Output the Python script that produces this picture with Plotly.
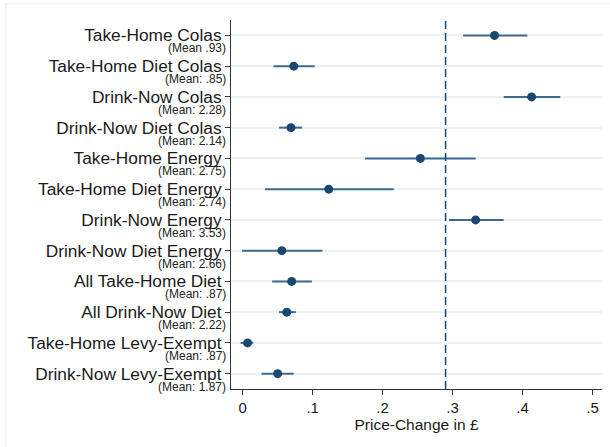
import plotly.graph_objects as go

categories = [
    "Take-Home Colas", "Take-Home Diet Colas", "Drink-Now Colas", "Drink-Now Diet Colas",
    "Take-Home Energy", "Take-Home Diet Energy", "Drink-Now Energy", "Drink-Now Diet Energy",
    "All Take-Home Diet", "All Drink-Now Diet", "Take-Home Levy-Exempt", "Drink-Now Levy-Exempt",
]
mean_labels = [
    "(Mean .93)", "(Mean: .85)", "(Mean: 2.28)", "(Mean: 2.14)",
    "(Mean: 2.75)", "(Mean: 2.74)", "(Mean: 3.53)", "(Mean: 2.66)",
    "(Mean: .87)", "(Mean: 2.22)", "(Mean: .87)", "(Mean: 1.87)",
]
estimates = [0.360, 0.073, 0.413, 0.069, 0.254, 0.123, 0.333, 0.056, 0.070, 0.063, 0.007, 0.050]
ci_low = [0.315, 0.044, 0.373, 0.052, 0.175, 0.032, 0.295, -0.001, 0.042, 0.052, -0.003, 0.027]
ci_high = [0.407, 0.103, 0.454, 0.085, 0.333, 0.216, 0.373, 0.114, 0.099, 0.076, 0.015, 0.073]
reference_line = 0.29
x_ticks = [0, 0.1, 0.2, 0.3, 0.4, 0.5]
x_ticktext = ["0", ".1", ".2", ".3", ".4", ".5"]

positions = list(range(1, len(categories) + 1))
NAVY = "#1a476f"
FONT = "Arial, Liberation Sans, sans-serif"

fig = go.Figure()

# CI lines
ci_x, ci_y = [], []
for p, lo, hi in zip(positions, ci_low, ci_high):
    ci_x += [lo, hi, None]
    ci_y += [p, p, None]
fig.add_trace(go.Scatter(x=ci_x, y=ci_y, mode="lines",
                         line=dict(color="#3e6a90", width=2), hoverinfo="skip", showlegend=False))
fig.add_trace(go.Scatter(x=estimates, y=positions, mode="markers",
                         marker=dict(color=NAVY, size=9), showlegend=False))

fig.add_shape(type="line", xref="x", yref="paper", x0=reference_line, x1=reference_line,
              y0=0, y1=1, line=dict(color=NAVY, width=1.5, dash="8px,4px"))

# outer frame
fig.add_shape(type="rect", xref="paper", yref="paper", x0=-0.607, x1=1.2, y0=-0.3, y1=1.044,
              line=dict(color="#e8eef0", width=1), layer="below")

for p, m in zip(positions, mean_labels):
    fig.add_annotation(x=0, xref="paper", y=p, yref="y", text=m, showarrow=False,
                       xanchor="right", yanchor="middle", xshift=-3, yshift=-13,
                       font=dict(size=12, color="#222", family=FONT))

fig.update_layout(
    width=610, height=447,
    margin=dict(l=231, r=8, t=20, b=58),
    plot_bgcolor="white", paper_bgcolor="white",
    font=dict(family=FONT, color="#1a1a1a"),
)
fig.update_xaxes(range=[-0.0167, 0.5136], tickvals=x_ticks, ticktext=x_ticktext,
                 ticks="outside", ticklen=5, tickcolor="#333", showgrid=False, zeroline=False,
                 showline=True, linecolor="#333", linewidth=1,
                 tickfont=dict(size=15, family=FONT, color="#1a1a1a"),
                 title=dict(text="Price-Change in £", font=dict(size=15.5, family=FONT, color="#1a1a1a"),
                            standoff=0))
fig.update_yaxes(range=[12.5, 0.5], tickvals=positions, ticktext=categories,
                 ticks="outside", ticklen=5, tickcolor="#333", showgrid=True,
                 gridcolor="#eaf2f3", gridwidth=1.5, zeroline=False,
                 showline=True, linecolor="#333", linewidth=1,
                 tickfont=dict(size=17.3, family=FONT, color="#1a1a1a"))

fig.write_html("out.html")
